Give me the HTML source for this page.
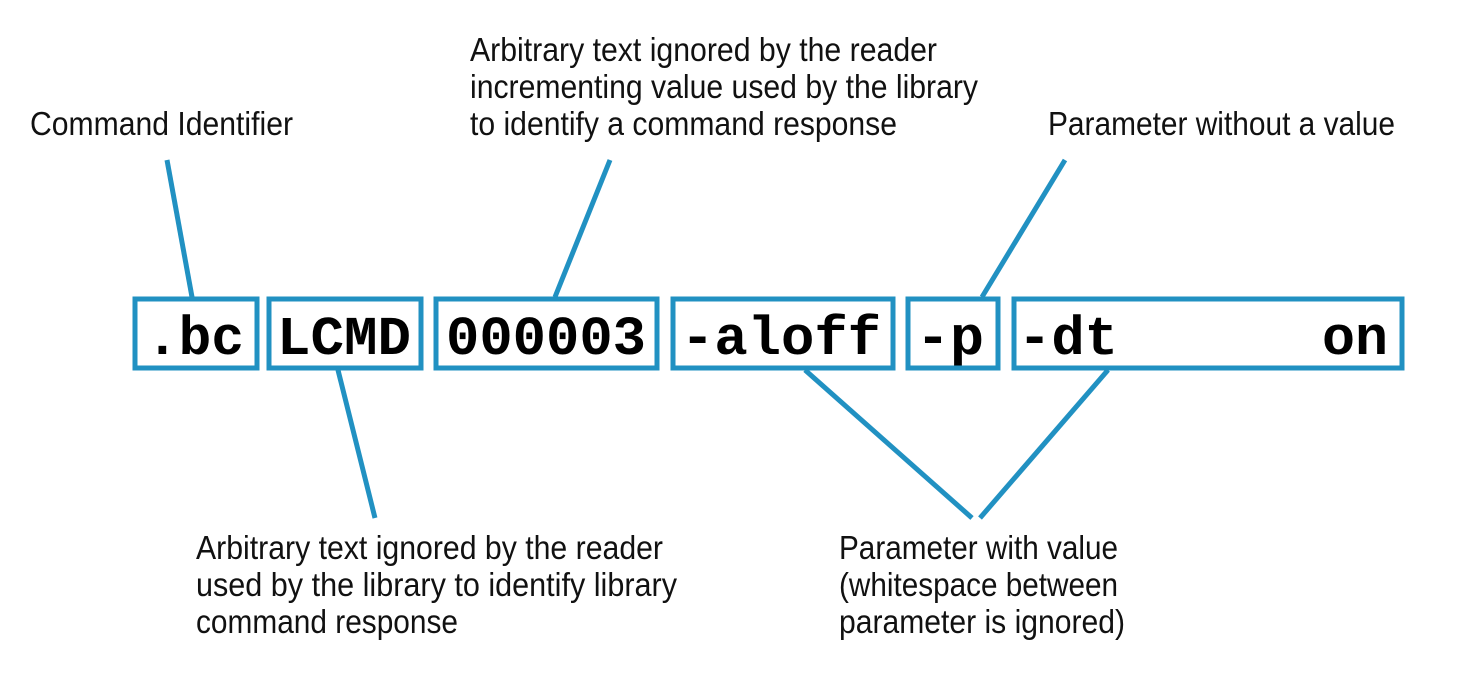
<!DOCTYPE html>
<html><head><meta charset="utf-8"><style>
html,body{margin:0;padding:0;background:#fff;}
svg{display:block;}
.t{font-family:"Liberation Sans Narrow","Liberation Sans",sans-serif;font-size:33px;fill:#111;}
.m{font-family:"Liberation Mono",monospace;font-weight:bold;font-size:55px;fill:#000;}
</style></head><body>
<svg width="1478" height="683" viewBox="0 0 1478 683" xmlns="http://www.w3.org/2000/svg">
<g stroke="#2191c2" stroke-width="5" fill="none">
<rect x="135" y="299" width="122" height="69"/>
<rect x="269" y="299" width="152" height="69"/>
<rect x="436" y="299" width="221" height="69"/>
<rect x="673" y="299" width="220" height="69"/>
<rect x="908" y="299" width="90" height="69"/>
<rect x="1014" y="299" width="388" height="69"/>
<line x1="167" y1="160" x2="192" y2="297"/>
<line x1="610" y1="160" x2="555" y2="297"/>
<line x1="1065" y1="160" x2="982" y2="297"/>
<line x1="338" y1="370" x2="375" y2="518"/>
<line x1="805" y1="370" x2="972" y2="518"/>
<line x1="1108" y1="370" x2="980" y2="518"/>
</g>
<text class="m" x="146" y="354" textLength="98" lengthAdjust="spacingAndGlyphs">.bc</text>
<text class="m" x="277" y="354" textLength="134" lengthAdjust="spacingAndGlyphs">LCMD</text>
<text class="m" x="446" y="354" textLength="200" lengthAdjust="spacingAndGlyphs">000003</text>
<text class="m" x="681" y="354" textLength="200" lengthAdjust="spacingAndGlyphs">-aloff</text>
<text class="m" x="916" y="354" textLength="68" lengthAdjust="spacingAndGlyphs">-p</text>
<text class="m" x="1018" y="354" textLength="100" lengthAdjust="spacingAndGlyphs">-dt</text>
<text class="m" x="1322" y="354" textLength="66" lengthAdjust="spacingAndGlyphs">on</text>

<text class="t" x="30" y="135" textLength="263" lengthAdjust="spacingAndGlyphs">Command Identifier</text>
<text class="t" x="470" y="61" textLength="467" lengthAdjust="spacingAndGlyphs">Arbitrary text ignored by the reader</text>
<text class="t" x="470" y="98" textLength="508" lengthAdjust="spacingAndGlyphs">incrementing value used by the library</text>
<text class="t" x="470" y="135" textLength="427" lengthAdjust="spacingAndGlyphs">to identify a command response</text>
<text class="t" x="1048" y="135" textLength="347" lengthAdjust="spacingAndGlyphs">Parameter without a value</text>
<text class="t" x="196" y="559" textLength="467" lengthAdjust="spacingAndGlyphs">Arbitrary text ignored by the reader</text>
<text class="t" x="196" y="596" textLength="481" lengthAdjust="spacingAndGlyphs">used by the library to identify library</text>
<text class="t" x="196" y="633" textLength="262" lengthAdjust="spacingAndGlyphs">command response</text>
<text class="t" x="839" y="559" textLength="279" lengthAdjust="spacingAndGlyphs">Parameter with value</text>
<text class="t" x="839" y="596" textLength="279" lengthAdjust="spacingAndGlyphs">(whitespace between</text>
<text class="t" x="839" y="633" textLength="286" lengthAdjust="spacingAndGlyphs">parameter is ignored)</text>
</svg>
</body></html>
